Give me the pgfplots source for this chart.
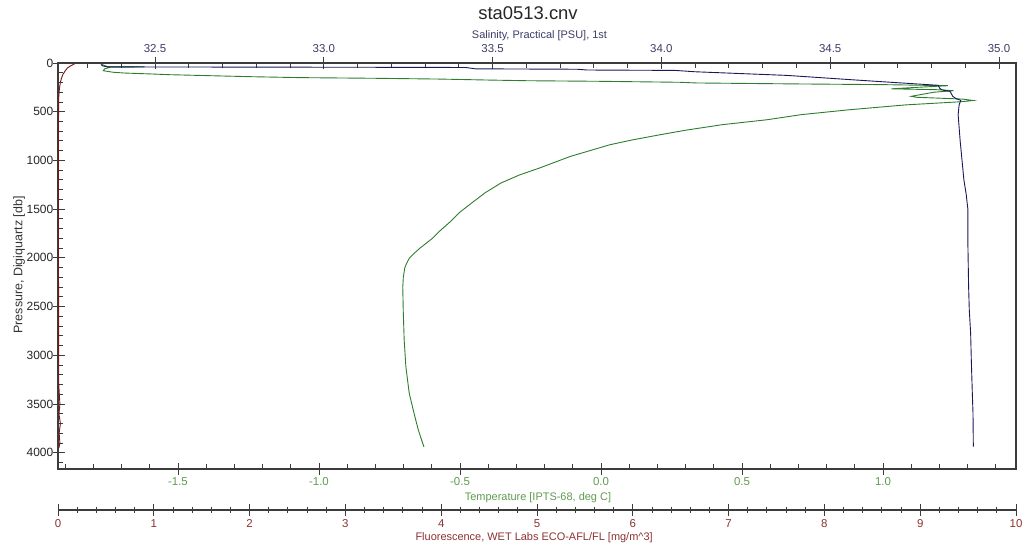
\documentclass[border=0pt]{standalone}
\usepackage{pgfplots}
\pgfplotsset{compat=1.18}
\usepackage{pgfplotstable}
\usepackage{fontspec}
\setmainfont{Liberation Sans}

\definecolor{axcol}{RGB}{60,60,60}
\definecolor{salline}{RGB}{25,25,90}
\definecolor{saltext}{RGB}{60,60,105}
\definecolor{templine}{RGB}{45,125,45}
\definecolor{temptext}{RGB}{95,155,80}
\definecolor{fluline}{RGB}{120,20,20}
\definecolor{flutext}{RGB}{140,50,50}

% pressure [db] vs salinity [PSU]
\pgfplotstableread{
P S
15 32.34
30 32.345
40 32.36
44 33.13
46 33.42
60 33.45
64 33.75
72 33.78
76 34.04
90 34.10
127 34.37
150 34.47
171 34.56
198 34.68
229 34.82
257 34.824
274 34.83
291 34.855
342 34.863
366 34.873
383 34.887
428 34.882
530 34.879
800 34.885
1198 34.896
1352 34.903
1506 34.908
1883 34.908
2294 34.910
2533 34.912
2772 34.916
3046 34.918
3388 34.921
3594 34.923
3937 34.924
}\salinity

% pressure vs temperature [deg C]
\pgfplotstableread{
P T
15 -1.77
38 -1.75
41 -1.62
43 -1.74
60 -1.76
79 -1.765
95 -1.73
103 -1.69
112 -1.60
120 -1.53
140 -1.25
150 -1.07
157 -0.80
165 -0.57
175 -0.40
182 -0.26
188 0.00
198 0.28
205 0.34
215 0.70
222 1.00
233 1.23
250 1.12
265 1.03
274 1.19
284 1.25
300 1.18
342 1.10
352 1.12
370 1.28
385 1.32
397 1.28
430 1.08
480 0.88
530 0.71
582 0.59
633 0.43
690 0.30
736 0.21
790 0.11
840 0.03
900 -0.04
960 -0.11
1020 -0.165
1080 -0.22
1150 -0.29
1232 -0.355
1330 -0.41
1440 -0.46
1530 -0.50
1630 -0.535
1720 -0.57
1800 -0.598
1900 -0.642
1960 -0.665
2005 -0.680
2060 -0.690
2105 -0.696
2200 -0.701
2300 -0.703
2570 -0.701
2840 -0.698
3115 -0.692
3390 -0.680
3595 -0.663
3765 -0.648
3940 -0.628
}\temperature

% pressure vs fluorescence [mg/m^3]
\pgfplotstableread{
P F
5 0.18
15 0.16
30 0.13
50 0.10
80 0.075
120 0.05
160 0.035
200 0.025
260 0.015
350 0.008
500 0.006
800 0.004
1500 0.005
2500 0.006
3300 0.008
3500 0.02
3600 0.01
3700 0.025
3800 0.012
3900 0.02
3950 0.01
}\fluor

\begin{document}
\begin{tikzpicture}
\useasboundingbox (-58bp,-77bp) rectangle (971bp,469bp);
\pgfplotsset{
  common/.style={
    scale only axis, width=958bp, height=406bp,
    at={(0,0)}, anchor=south west,
    ymin=0, ymax=4167, y dir=reverse,
    tick label style={font=\fontsize{11.5}{13}\selectfont},
    label style={font=\fontsize{11}{13}\selectfont},
    /pgf/number format/assume math mode=true,
    tick align=inside,
    major tick length=12bp, minor tick length=5.5bp,
    axis line style={draw=axcol, line width=1.1bp},
    tick style={draw=axcol, line width=0.9bp},
  }
}

% temperature (bottom) and pressure
\begin{axis}[common,
  xmin=-1.9255, xmax=1.4716,
  xtick pos=bottom, ytick pos=left,
  xtick={-1.5,-1,...,1}, minor xtick={-1.9,-1.8,...,1.4},
  ytick={0,500,...,4000}, minor ytick={100,200,...,4100},
  major x tick style={yshift=-6bp},
  major y tick style={xshift=-5bp},
  scaled y ticks=false,
  xticklabel style={text=temptext, /pgf/number format/.cd, fixed, fixed zerofill, precision=1},
  yticklabel style={text=black!85, font=\fontsize{12}{14}\selectfont, /pgf/number format/.cd, 1000 sep={}},
  xticklabel shift=5bp, yticklabel shift=1.2bp,
  xlabel={Temperature [IPTS-68, deg C]},
  xlabel style={at={(axis description cs:0.501,-0.071)}, anchor=center, text=temptext},
  ylabel={Pressure, Digiquartz [db]},
  ylabel style={at={(axis description cs:-0.0405,0.5025)}, anchor=center, text=black!80, font=\fontsize{12.5}{14}\selectfont},
  title={sta0513.cnv},
  title style={at={(axis description cs:0.4906,1.107)}, anchor=center, font=\fontsize{18.5}{20}\selectfont, text=black!85},
]
\addplot[templine, line width=0.9bp] table[x=T, y=P] {\temperature};
\end{axis}

% salinity (top)
\begin{axis}[common,
  xmin=32.2127, xmax=35.0504,
  axis x line*=top, axis y line=none,
  xtick={32.5,33,...,35}, minor xtick={32.3,32.4,...,35},
  major x tick style={yshift=6bp},
  xticklabel style={text=saltext, /pgf/number format/.cd, fixed, fixed zerofill, precision=1},
  xticklabel shift=7bp,
  xlabel={Salinity, Practical [PSU], 1st},
  xlabel style={at={(axis description cs:0.5026,1.068)}, anchor=center, text=saltext},
]
\addplot[salline, line width=0.9bp] table[x=S, y=P] {\salinity};
\end{axis}

% fluorescence (detached lower scale)
\begin{axis}[common,
  xmin=0, xmax=10,
  axis x line*=bottom, axis y line=none,
  axis x line shift=41bp,
  xtick={0,...,10}, minor xtick={0.2,0.4,...,9.8},
  major x tick style={yshift=-6bp},
  minor x tick style={yshift=-2.5bp},
  xticklabel style={text=flutext},
  xticklabel shift=6bp,
  xlabel={Fluorescence, WET Labs ECO-AFL/FL [mg/m\textasciicircum3]},
  xlabel style={at={(axis description cs:0.497,-0.1687)}, anchor=center, text=flutext},
]
\addplot[fluline, line width=0.9bp] table[x=F, y=P] {\fluor};
\end{axis}
\end{tikzpicture}
\end{document}
